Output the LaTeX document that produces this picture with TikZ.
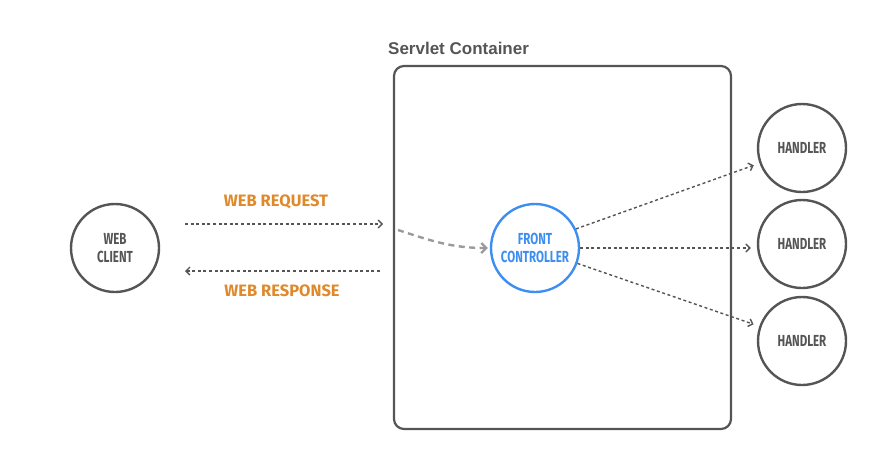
\documentclass[tikz,border=0pt]{standalone}
\usepackage{fontspec}
\setmainfont{Liberation Sans}
\newfontfamily\condfont[FakeStretch=0.72]{Fira Sans}
\newfontfamily\labelfont{Fira Sans}
\usetikzlibrary{arrows.meta}
\definecolor{ink}{HTML}{555555}
\definecolor{softink}{HTML}{9A9A9A}
\definecolor{accent}{HTML}{3D8EF0}
\definecolor{flow}{HTML}{E0892B}
\tikzset{
  actor/.style={circle, draw=ink, line width=2.4pt, minimum size=88pt, inner sep=0pt,
    text=ink, align=center, font=\condfont\bfseries\fontsize{16}{18}\selectfont},
  hub/.style={actor, draw=accent, text=accent},
  frame/.style={draw=ink, line width=2.2pt, rounded corners=10pt},
  msg/.style={draw=ink, line width=1.4pt, dash pattern=on 3pt off 2.6pt,
    -{Straight Barb[length=4pt,width=8pt,line width=1.4pt]}},
  softmsg/.style={draw=softink, line width=2.4pt, dash pattern=on 6pt off 4.5pt,
    -{Straight Barb[length=5pt,width=10pt,line width=2.2pt]}},
  flowlabel/.style={text=flow, font=\labelfont\bfseries\fontsize{16.5}{16.5}\selectfont},
}
\begin{document}
\begin{tikzpicture}[x=1pt,y=-1pt]
  \useasboundingbox (0,0) rectangle (869,463);

  % container
  \draw[frame] (394,66) rectangle (731,429);
  \node[anchor=south west, inner sep=0pt, text=ink, font=\bfseries\fontsize{17}{17}\selectfont]
    (title) at (388,55) {Servlet Container};

  % actors
  \node[actor] (client) at (115,248) {WEB\\CLIENT};
  \node[hub] (fc) at (535,248) {FRONT\\CONTROLLER};
  \node[actor] (h1) at (802,148) {HANDLER};
  \node[actor] (h2) at (802,244) {HANDLER};
  \node[actor] (h3) at (802,341) {HANDLER};

  % request / response between client and container
  \coordinate (reqA) at (185,224);
  \coordinate (reqB) at (383,224);
  \coordinate (resA) at (380,271);
  \coordinate (resB) at (185,271);
  \draw[msg] (reqA) -- (reqB);
  \draw[msg] (resA) -- (resB);
  \node[flowlabel] (reqlabel) at (276,202) {WEB REQUEST};
  \node[flowlabel] (reslabel) at (282,291) {WEB RESPONSE};

  % dispatch inside the container
  \coordinate (entry) at (398,230);
  \draw[softmsg] (entry) to[out=-18,in=180] ([xshift=-2pt]fc.west);

  % front controller to handlers
  \draw[msg, shorten >=6pt] (fc.25) -- (h1);
  \draw[msg, shorten >=6pt] (fc.east) -- (fc.east -| h2.west);
  \draw[msg, shorten >=6pt] (fc.-20) -- (h3);
\end{tikzpicture}
\end{document}
